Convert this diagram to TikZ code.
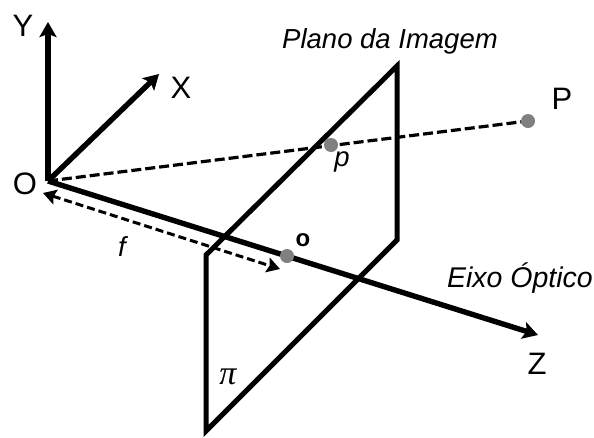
\documentclass[tikz,border=0pt]{standalone}
\usepackage{fontspec}
\setmainfont{Liberation Sans}
\newfontfamily\symfont{Liberation Serif}
\usetikzlibrary{arrows.meta}
\definecolor{dotgray}{RGB}{128,128,128}
\tikzset{
  >={Stealth[length=15pt,width=17pt,inset=3pt]},
  axis/.style={->,line width=#1,draw=black},
  axis/.default=5.4pt,
  plane/.style={draw=black,line width=5pt,miter limit=10},
  ray/.style={draw=black,line width=3.2pt,dash pattern=on 10pt off 4pt},
  span/.style={<->,draw=black,line width=3pt,dash pattern=on 8pt off 4pt,
    >={Stealth[length=13pt,width=15pt,inset=2pt]}},
  dot/.style={circle,fill=dotgray,inner sep=0pt,minimum size=14pt},
  lbl/.style={font=\fontsize{31}{31}\selectfont,inner sep=0pt},
  caption/.style={font=\fontsize{#1}{#1}\selectfont\itshape,inner sep=0pt},
  caption/.default=27.5,
}
\begin{document}
\begin{tikzpicture}[x=1pt,y=-1pt]
  \useasboundingbox (0,0) rectangle (594,437);
  \fill[white] (0,0) rectangle (594,437);
  % axes and image plane
  \coordinate (O) at (48,181);
  \coordinate (Ytip) at (48,22);
  \coordinate (Xtip) at (159,74);
  \coordinate (Ztip) at (538,335);
  \coordinate (spanA) at (43,193);
  \coordinate (spanB) at (280,269);
  \draw[plane] (397,66) -- (397,240) -- (206,431) -- (206,255) -- cycle;
  \draw[ray] (O) -- (528,121);
  \draw[span] (spanA) -- (spanB);
  \draw[axis] (O) -- (Ytip);
  \draw[axis] (O) -- (Xtip);
  \draw[axis] (O) -- (Ztip);
  \node[dot] (Pdot) at (528,121) {};
  \node[dot] (pdot) at (331,145) {};
  \node[dot] (odot) at (287,256) {};
  % labels
  \node[lbl] (Ylabel) at (23,26) {Y};
  \node[lbl] (Xlabel) at (181,88) {X};
  \node[lbl] (Olabel) at (25,184) {O};
  \node[lbl] (Zlabel) at (537,364) {Z};
  \node[lbl] (Plabel) at (562,99) {P};
  \node[caption] (plano) at (390,41) {Plano da Imagem};
  \node[caption=28.5] (eixo) at (520,278) {Eixo Óptico};
  \node[caption] (flabel) at (122,247) {f};
  \node[caption] (plabel) at (342,162) {p};
  \node[font=\fontsize{24}{24}\selectfont\bfseries,inner sep=0pt] (olabel) at (303,240) {o};
  \node[font=\fontsize{34}{34}\selectfont\symfont\itshape,inner sep=0pt] (pilabel) at (228,377) {π};
\end{tikzpicture}
\end{document}
